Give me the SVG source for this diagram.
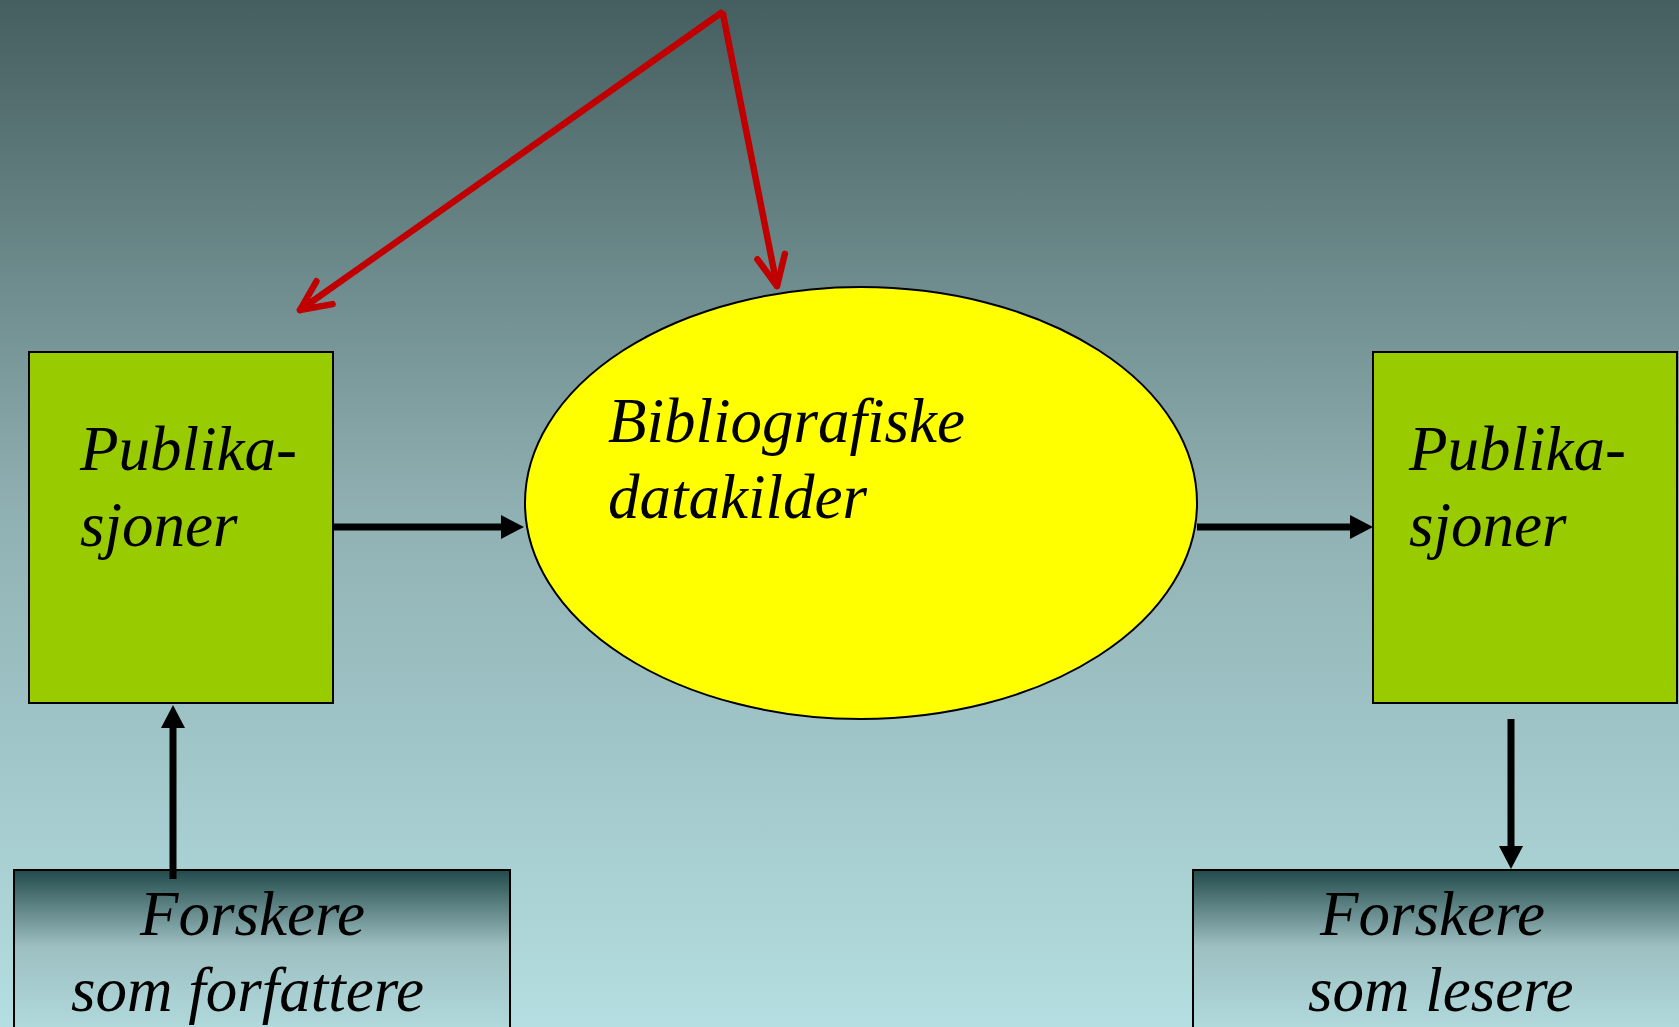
<svg xmlns="http://www.w3.org/2000/svg" width="1679" height="1027" viewBox="0 0 1679 1027">
  <defs>
    <linearGradient id="bg" x1="0" y1="0" x2="0" y2="1">
      <stop offset="0" stop-color="#455E5F"/>
      <stop offset="0.5" stop-color="#90B1B3"/>
      <stop offset="1" stop-color="#B4DEE1"/>
    </linearGradient>
    <linearGradient id="actor" x1="0" y1="870" x2="0" y2="1040" gradientUnits="userSpaceOnUse">
      <stop offset="0" stop-color="#234B4C"/>
      <stop offset="0.45" stop-color="#9DBFC1"/>
      <stop offset="1" stop-color="#B3DDE0"/>
    </linearGradient>
    <marker id="blackHead" markerUnits="userSpaceOnUse" markerWidth="30" markerHeight="30" viewBox="0 -15 30 30" refX="0" refY="0" orient="auto" overflow="visible">
      <path d="M0,-12 L23,0 L0,12 Z" fill="#000"/>
    </marker>
    <marker id="redHead" markerUnits="userSpaceOnUse" markerWidth="40" markerHeight="40" viewBox="-40 -20 40 40" refX="0" refY="0" orient="auto" overflow="visible">
      <path d="M-30,-14 L0,0 L-30,14" fill="none" stroke="#C00000" stroke-width="6.5" stroke-linecap="round" stroke-linejoin="round"/>
    </marker>
  </defs>
  <style>
    .box { fill: #99CC00; stroke: #000; stroke-width: 2; }
    .ell { fill: #FFFF00; stroke: #000; stroke-width: 2; }
    .actor { fill: url(#actor); stroke: #000; stroke-width: 2; }
    .lbl { font-family: "Liberation Serif", "Times New Roman", serif; font-style: italic; font-size: 63px; fill: #000; }
    .flow { stroke: #000; stroke-width: 7; fill: none; marker-end: url(#blackHead); }
    .red { stroke: #C00000; stroke-width: 6.5; fill: none; stroke-linecap: round; marker-end: url(#redHead); }
  </style>
  <rect x="0" y="0" width="1679" height="1027" fill="url(#bg)"/>

  <g id="pub-left">
    <rect class="box" x="29" y="352" width="304" height="351"/>
    <text class="lbl" x="80" y="470">Publika-</text>
    <text class="lbl" x="80" y="546">sjoner</text>
  </g>

  <g id="biblio">
    <ellipse class="ell" cx="861" cy="503" rx="336" ry="216"/>
    <text class="lbl" x="608" y="442">Bibliografiske</text>
    <text class="lbl" x="608" y="518">datakilder</text>
  </g>

  <g id="pub-right">
    <rect class="box" x="1373" y="352" width="304" height="351"/>
    <text class="lbl" x="1409" y="470">Publika-</text>
    <text class="lbl" x="1409" y="546">sjoner</text>
  </g>

  <g id="authors">
    <rect class="actor" x="14" y="870" width="496" height="170"/>
    <text class="lbl" x="140" y="935">Forskere</text>
    <text class="lbl" x="71" y="1011">som forfattere</text>
  </g>

  <g id="readers">
    <rect class="actor" x="1193" y="870" width="496" height="170"/>
    <text class="lbl" x="1320" y="935">Forskere</text>
    <text class="lbl" x="1308" y="1011">som lesere</text>
  </g>

  <g id="connectors">
    <line class="flow" x1="333" y1="527" x2="501" y2="527"/>
    <line class="flow" x1="1197" y1="527" x2="1350" y2="527"/>
    <line class="flow" x1="173" y1="879" x2="173" y2="728"/>
    <line class="flow" x1="1511" y1="719" x2="1511" y2="846"/>
    <line class="red" x1="721" y1="13" x2="300" y2="310"/>
    <line class="red" x1="723" y1="14" x2="777" y2="286"/>
  </g>
</svg>
